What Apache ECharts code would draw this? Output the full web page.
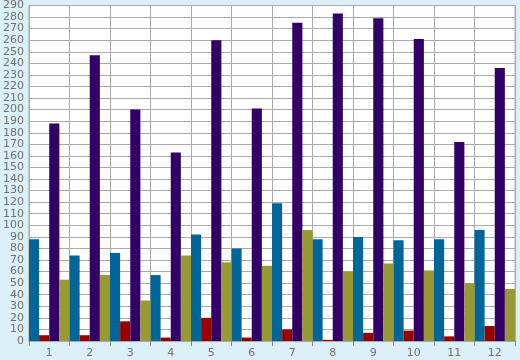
<!DOCTYPE html>
<html>
<head>
<meta charset="utf-8">
<script src="https://cdn.jsdelivr.net/npm/echarts@6/dist/echarts.min.js"></script>
<style>
html,body{margin:0;padding:0;background:#daeff6;}
#c{width:520px;height:360px;}
</style>
</head>
<body>
<div id="c"></div>
<script>
var categories = ['1','2','3','4','5','6','7','8','9','10','11','12'];
var blueValues   = [88, 74, 76, 57, 92, 80, 119, 88, 90, 87, 88, 96];
var redValues    = [5, 5, 17, 3, 20, 3, 10, 1, 7, 9, 4, 13];
var purpleValues = [188, 247, 200, 163, 260, 201, 275, 283, 279, 261, 172, 236];
var oliveValues  = [53, 57, 35, 74, 68, 65, 96, 60, 67, 61, 50, 45];

var chart = echarts.init(document.getElementById('c'), null, {renderer:'canvas'});
var font = 'DejaVu Sans';
function bar(name, data, color){
  return {name:name, type:'bar', data:data, barGap:'0%', barCategoryGap:'0%',
    itemStyle:{color:color}, animation:false};
}
chart.setOption({
  backgroundColor:'#daeff6',
  animation:false,
  grid:{left:26, right:5, top:5, bottom:19, show:true, backgroundColor:'#ffffff', borderColor:'#aaaaaa', borderWidth:1, containLabel:false},
  xAxis:{type:'category', data:categories, boundaryGap:true,
    axisLine:{show:true, lineStyle:{color:'#aaaaaa'}},
    axisTick:{show:true, alignWithLabel:false, length:5, lineStyle:{color:'#888888'}},
    axisLabel:{color:'#707070', fontFamily:font, fontSize:11, margin:7},
    splitLine:{show:true, lineStyle:{color:'#aaaaaa', width:1}}},
  yAxis:{type:'value', min:0, max:290, interval:10,
    axisLine:{show:true, lineStyle:{color:'#aaaaaa'}},
    axisTick:{show:false},
    axisLabel:{color:'#707070', fontFamily:font, fontSize:11, margin:5},
    splitLine:{show:true, lineStyle:{color:'#aaaaaa', width:1}}},
  series:[
    bar('A', blueValues, '#006699'),
    bar('B', redValues, '#990000'),
    bar('C', purpleValues, '#330066'),
    bar('D', oliveValues, '#999933')
  ]
});
</script>
</body>
</html>
